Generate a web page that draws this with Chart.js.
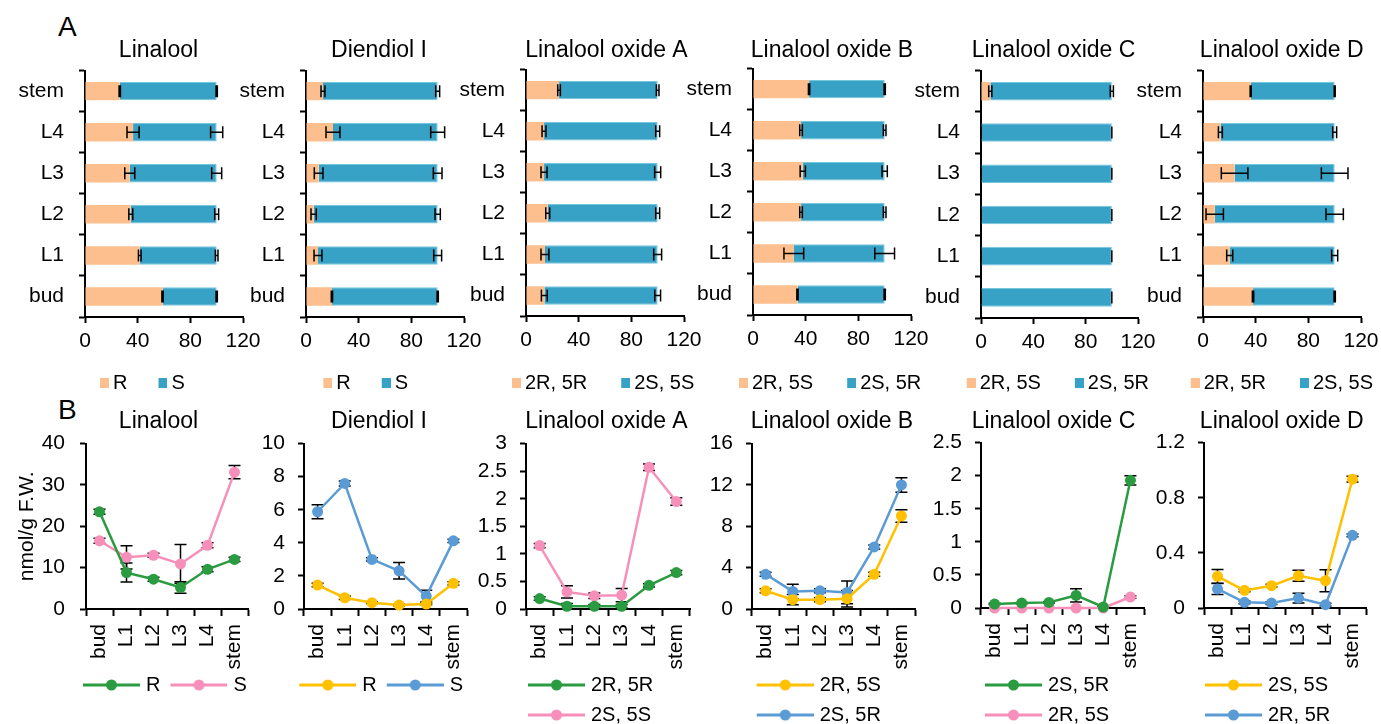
<!DOCTYPE html>
<html>
<head>
<meta charset="utf-8">
<script src="https://cdn.jsdelivr.net/npm/chart.js@4.4.1/dist/chart.umd.min.js"></script>
<style>
  body { margin: 0; background: #fff; width: 1381px; height: 724px; overflow: hidden; position: relative;
         font-family: "Liberation Sans", Arial, sans-serif; }
  canvas { position: absolute; }
  .panel { position: absolute; font-size: 28px; line-height: 1; color: #000; }
</style>
</head>
<body>
<div class="panel" style="left:58px;top:13px">A</div>
<div class="panel" style="left:58px;top:396px">B</div>
<script>
// ---- data ----
const categories = ['bud', 'L1', 'L2', 'L3', 'L4', 'stem'];
const compounds = ['Linalool', 'Diendiol I', 'Linalool oxide A', 'Linalool oxide B', 'Linalool oxide C', 'Linalool oxide D'];

// A: relative proportion (%) of the two isomers
const topNames = [['R', 'S'], ['R', 'S'], ['2R, 5R', '2S, 5S'], ['2R, 5S', '2S, 5R'], ['2R, 5S', '2S, 5R'], ['2R, 5R', '2S, 5S']];
const linaloolPctA = [58.9, 41.6, 34.8, 34.0, 36.5, 26.4];
const linaloolPctB = [41.1, 58.4, 65.2, 66.0, 63.5, 73.6];
const linaloolPctSd = [0.5, 1.0, 1.5, 3.8, 4.6, 0.5];
const diendiolPctA = [19.7, 9.1, 5.8, 9.6, 20.5, 12.9];
const diendiolPctB = [80.3, 90.9, 94.2, 90.4, 79.5, 87.1];
const diendiolPctSd = [0.5, 3.0, 2.0, 3.3, 5.3, 1.5];
const loxAPctA = [13.9, 14.4, 16.5, 13.7, 13.7, 25.1];
const loxAPctB = [86.1, 85.6, 83.5, 86.3, 86.3, 74.9];
const loxAPctSd = [2.2, 3.0, 1.5, 2.3, 1.5, 1.0];
const loxBPctA = [33.8, 31.0, 36.5, 37.8, 36.5, 42.6];
const loxBPctB = [66.2, 69.0, 63.5, 62.2, 63.5, 57.4];
const loxBPctSd = [0.5, 7.5, 1.0, 2.0, 1.0, 0.5];
const loxCPctA = [0, 0, 0, 0, 0, 7.1];
const loxCPctB = [100, 100, 100, 100, 100, 92.9];
const loxCPctSd = [0, 0, 0, 0, 0, 1.2];
const loxDPctA = [38.0, 20.3, 8.9, 24.0, 13.2, 36.2];
const loxDPctB = [62.0, 79.7, 91.1, 76.0, 86.8, 63.8];
const loxDPctSd = [0.5, 2.3, 6.6, 10.1, 1.5, 0.4];
const pctMax = 120, pctStep = 40;

// B: content, nmol/g F.W.
const bottomNames = [['R', 'S'], ['R', 'S'], ['2R, 5R', '2S, 5S'], ['2R, 5S', '2S, 5R'], ['2S, 5R', '2R, 5S'], ['2S, 5S', '2R, 5R']];
const linaloolR = [23.5, 8.8, 7.2, 5.2, 9.6, 12.0];
const linaloolRSd = [0.6, 2.3, 0.5, 1.4, 0.6, 0.5];
const linaloolS = [16.5, 12.5, 13.0, 10.9, 15.4, 33.1];
const linaloolSSd = [0.6, 2.8, 0.5, 4.7, 0.6, 1.6];
const diendiolR = [1.45, 0.68, 0.38, 0.24, 0.30, 1.55];
const diendiolRSd = [0.1, 0.1, 0.05, 0.05, 0.05, 0.1];
const diendiolS = [5.88, 7.59, 3.0, 2.31, 0.78, 4.12];
const diendiolSSd = [0.43, 0.15, 0.1, 0.5, 0.35, 0.1];
const loxA_2R5R = [0.19, 0.05, 0.05, 0.05, 0.43, 0.66];
const loxA_2R5RSd = [0.03, 0.05, 0.03, 0.03, 0.03, 0.04];
const loxA_2S5S = [1.15, 0.31, 0.24, 0.25, 2.57, 1.95];
const loxA_2S5SSd = [0.04, 0.11, 0.05, 0.12, 0.06, 0.07];
const loxB_2R5S = [1.76, 0.9, 0.9, 1.0, 3.36, 9.0];
const loxB_2R5SSd = [0.2, 0.5, 0.2, 0.8, 0.2, 0.6];
const loxB_2S5R = [3.36, 1.7, 1.76, 1.6, 6.0, 12.0];
const loxB_2S5RSd = [0.2, 0.7, 0.2, 1.1, 0.2, 0.7];
const loxC_2S5R = [0.06, 0.075, 0.085, 0.19, 0.015, 1.93];
const loxC_2S5RSd = [0.01, 0.01, 0.01, 0.1, 0.01, 0.07];
const loxC_2R5S = [0, 0, 0, 0, 0, 0.166];
const loxC_2R5SSd = [0, 0, 0, 0, 0, 0.02];
const loxD_2S5S = [0.23, 0.128, 0.162, 0.234, 0.198, 0.935];
const loxD_2S5SSd = [0.05, 0.01, 0.01, 0.04, 0.08, 0.02];
const loxD_2R5R = [0.138, 0.041, 0.036, 0.072, 0.024, 0.527];
const loxD_2R5RSd = [0.04, 0.01, 0.01, 0.035, 0.01, 0.01];
const bottomYMax = [40, 10, 3, 16, 2.5, 1.2];
const bottomYStep = [10, 2, 0.5, 4, 0.5, 0.4];

// ---- style ----
Chart.defaults.font.family = "'Liberation Sans', Arial, sans-serif";
Chart.defaults.color = '#000';
const PEACH = '#FDBF8D', TEAL = '#38A2C6', TEAL_EDGE = '#76C6DF';
const GREEN = '#2A9B40', PINK = '#F690BA', GOLD = '#FFC000', SKY = '#5B9BD5';

// legend icons: square for bars, line + dot for lines
function boxIcon(color) {
  const c = document.createElement('canvas');
  c.width = 15; c.height = 10;
  const x = c.getContext('2d');
  x.fillStyle = color; x.fillRect(6, 0, 9, 10);
  return c;
}
function lineIcon(color) {
  const c = document.createElement('canvas');
  c.width = 61; c.height = 12;
  const x = c.getContext('2d');
  x.strokeStyle = color; x.lineWidth = 3;
  x.beginPath(); x.moveTo(4, 6); x.lineTo(61, 6); x.stroke();
  x.fillStyle = color;
  x.beginPath(); x.arc(32.5, 6, 5.5, 0, Math.PI * 2); x.fill();
  return c;
}

function drawErrors(chart) {
  const ctx = chart.ctx;
  const horiz = chart.options.indexAxis === 'y';
  const vs = horiz ? chart.scales.x : chart.scales.y;
  const sets = chart.data.datasets;
  ctx.save();
  ctx.strokeStyle = '#000';
  ctx.lineWidth = 1.5;
  sets.forEach((ds, i) => {
    chart.getDatasetMeta(i).data.forEach((el, j) => {
      let v = ds.data[j];
      if (horiz) for (let k = 0; k < i; k++) v += sets[k].data[j];
      const e = ds.errors[j];
      const lo = vs.getPixelForValue(v - e), hi = vs.getPixelForValue(v + e);
      const c = horiz ? el.y : el.x, cap = 6;
      ctx.beginPath();
      if (horiz) {
        ctx.moveTo(lo, c); ctx.lineTo(hi, c);
        ctx.moveTo(lo, c - cap); ctx.lineTo(lo, c + cap);
        ctx.moveTo(hi, c - cap); ctx.lineTo(hi, c + cap);
      } else {
        ctx.moveTo(c, lo); ctx.lineTo(c, hi);
        ctx.moveTo(c - cap, lo); ctx.lineTo(c + cap, lo);
        ctx.moveTo(c - cap, hi); ctx.lineTo(c + cap, hi);
      }
      ctx.stroke();
    });
  });
  ctx.restore();
}
const errPlugin = {
  id: 'errbars',
  beforeDatasetsDraw(chart) { if (chart.config.type === 'line') drawErrors(chart); },
  afterDatasetsDraw(chart) { if (chart.config.type === 'bar') drawErrors(chart); }
};

// puts the canvas so the plot area lands on g.plot, and moves title / legend
function placer(g) {
  return {
    id: 'placer',
    afterLayout(chart) {
      const a = chart.chartArea;
      const ox = Math.round(g.plot[0] - a.left);
      const oy = Math.round(g.plot[1] - a.top);
      chart.canvas.style.left = ox + 'px';
      chart.canvas.style.top = oy + 'px';
      const t = chart.titleBlock;
      const h = t.bottom - t.top;
      t.left = g.titleX - 160 - ox; t.right = g.titleX + 160 - ox;
      t.top = g.titleY - h / 2 - oy; t.bottom = t.top + h;
      const lg = chart.legend;
      lg.left = g.legendX - g.legendPad - ox;
      lg.right = lg.left + g.legendW;
      lg.top = g.legendY - g.legendPad - 10 - oy;
      lg.bottom = lg.top + 120;
    }
  };
}

function build(g, config) {
  const cv = document.createElement('canvas');
  cv.width = g.w0; cv.height = g.h0;
  document.body.appendChild(cv);
  config.plugins = [placer(g), errPlugin];
  const chart = new Chart(cv, config);
  for (let k = 0; k < 4; k++) {
    const a = chart.chartArea;
    const dw = Math.round((g.plot[2] - g.plot[0]) - (a.right - a.left));
    const dh = Math.round((g.plot[3] - g.plot[1]) - (a.bottom - a.top));
    if (!dw && !dh) break;
    chart.resize(chart.width + dw, chart.height + dh);
  }
}

function axisLook(len) {
  return {
    grid: { display: true, drawOnChartArea: false, tickLength: len, tickColor: '#000', tickWidth: 2 },
    border: { display: true, color: '#000', width: 2 }
  };
}

function commonOptions(g, icons, boxW) {
  return {
    responsive: false, maintainAspectRatio: false, animation: false, events: [],
    layout: { padding: { top: 10, right: 30, bottom: 20, left: 0 } },
    plugins: {
      tooltip: { enabled: false },
      title: { display: true, text: g.title, font: { size: 23, weight: 'normal' }, color: '#000', padding: { top: 4, bottom: 4 } },
      legend: {
        display: true, position: 'bottom', align: 'start',
        labels: {
          usePointStyle: true, pointStyleWidth: boxW, padding: g.legendPad,
          font: { size: 20 }, color: '#000',
          generateLabels: chart => chart.data.datasets.map((ds, i) => ({
            text: ds.label, pointStyle: icons[i], datasetIndex: i, hidden: false, fontColor: '#000', lineWidth: 0
          }))
        }
      }
    }
  };
}

// fixed tick list 0..max by step
function fixedTicks(max, step) {
  return s => {
    const out = [];
    for (let i = 0; i * step <= max + 1e-9; i++) out.push({ value: +(i * step).toFixed(4) });
    s.ticks = out;
  };
}

// ---- A row: stacked horizontal bars ----
const topPct = [
  [linaloolPctA, linaloolPctB, linaloolPctSd],
  [diendiolPctA, diendiolPctB, diendiolPctSd],
  [loxAPctA, loxAPctB, loxAPctSd],
  [loxBPctA, loxBPctB, loxBPctSd],
  [loxCPctA, loxCPctB, loxCPctSd],
  [loxDPctA, loxDPctB, loxDPctSd]
];
const topPlots = [[85.3, 70.5, 243, 317], [305.7, 70.5, 463.4, 317], [526, 69.5, 684, 316],
                  [752.7, 68.5, 910.5, 315], [980.7, 70.5, 1138, 317.5], [1203.3, 70.5, 1361, 317]];
const titleXs = [158.5, 379, 606.5, 832, 1053.5, 1281.7];
const topLegendX = [100, 323.3, 512, 739, 966.7, 1190.7];
const topLegendPad = [31, 31, 34, 34, 34, 34];

topPct.forEach((p, n) => {
  const g = {
    title: compounds[n], plot: topPlots[n], titleX: titleXs[n], titleY: 51,
    legendX: topLegendX[n], legendY: 383, legendPad: topLegendPad[n], legendW: 400,
    w0: 268, h0: 400
  };
  const opts = commonOptions(g, [boxIcon(PEACH), boxIcon(TEAL)], 3);
  opts.indexAxis = 'y';
  opts.datasets = { bar: { categoryPercentage: 1, barPercentage: 0.45 } };
  opts.scales = {
    x: Object.assign({
      stacked: true, min: 0, max: pctMax,
      ticks: { padding: 6, maxRotation: 0, autoSkip: false, font: { size: 21 } },
      afterBuildTicks: fixedTicks(pctMax, pctStep),
      afterFit: s => { s.height = 40; s.paddingLeft = 0; s.paddingRight = 0; }
    }, axisLook(6)),
    y: Object.assign({
      stacked: true, reverse: true, offset: true,
      ticks: { padding: 15, autoSkip: false, font: { size: 21 } },
      afterFit: s => { s.width = 80; }
    }, axisLook(6))
  };
  opts.scales.y.grid.offset = true;
  build(g, {
    type: 'bar',
    data: {
      labels: categories,
      datasets: [
        { label: topNames[n][0], data: p[0], errors: p[2], backgroundColor: PEACH, borderWidth: 0 },
        { label: topNames[n][1], data: p[1], errors: p[2], backgroundColor: TEAL, borderColor: TEAL_EDGE, borderWidth: 1 }
      ]
    },
    options: opts
  });
});

// ---- B row: line charts ----
const bottomSeries = [
  [[linaloolR, linaloolRSd, GREEN], [linaloolS, linaloolSSd, PINK]],
  [[diendiolR, diendiolRSd, GOLD], [diendiolS, diendiolSSd, SKY]],
  [[loxA_2R5R, loxA_2R5RSd, GREEN], [loxA_2S5S, loxA_2S5SSd, PINK]],
  [[loxB_2R5S, loxB_2R5SSd, GOLD], [loxB_2S5R, loxB_2S5RSd, SKY]],
  [[loxC_2S5R, loxC_2S5RSd, GREEN], [loxC_2R5S, loxC_2R5SSd, PINK]],
  [[loxD_2S5S, loxD_2S5SSd, GOLD], [loxD_2R5R, loxD_2R5RSd, SKY]]
];
const bottomPlots = [[86, 443.3, 248, 609], [304, 443.3, 467, 609], [525.5, 443.3, 689, 609],
                     [751.7, 443.3, 915, 609], [981, 442.7, 1143.5, 608.3], [1204, 442.7, 1366, 608.3]];
const bottomLegendX = [83, 299.3, 528, 756.7, 985, 1205];
const bottomLegendW = [400, 400, 150, 150, 150, 150];

bottomSeries.forEach((series, n) => {
  const g = {
    title: compounds[n], plot: bottomPlots[n], titleX: titleXs[n], titleY: 422,
    legendX: bottomLegendX[n], legendY: 685, legendPad: 10, legendW: bottomLegendW[n],
    w0: 260, h0: 360
  };
  const opts = commonOptions(g, series.map(s => lineIcon(s[2])), 53);
  const first = n === 0;
  opts.scales = {
    x: Object.assign({
      offset: true,
      ticks: { autoSkip: false, minRotation: 90, maxRotation: 90, padding: 8, font: { size: 21 } },
      afterFit: s => { s.height = 75; s.paddingLeft = 0; s.paddingRight = 0; }
    }, axisLook(7)),
    y: Object.assign({
      min: 0, max: bottomYMax[n],
      ticks: { padding: first ? 15 : 13, autoSkip: false, font: { size: 21 }, callback: v => String(+v.toFixed(2)) },
      afterBuildTicks: fixedTicks(bottomYMax[n], bottomYStep[n]),
      title: { display: first, text: 'nmol/g F.W.', font: { size: 21 }, color: '#000', padding: 0 },
      afterFit: s => { s.width = first ? 71 : 60; }
    }, axisLook(6))
  };
  opts.scales.x.grid.offset = true;
  build(g, {
    type: 'line',
    data: {
      labels: categories,
      datasets: series.map((s, i) => ({
        label: bottomNames[n][i], data: s[0], errors: s[1],
        borderColor: s[2], backgroundColor: s[2], pointBackgroundColor: s[2], pointBorderColor: s[2],
        borderWidth: 2.5, pointRadius: 5.5, pointBorderWidth: 0, tension: 0, clip: false
      }))
    },
    options: opts
  });
});
</script>
</body>
</html>
